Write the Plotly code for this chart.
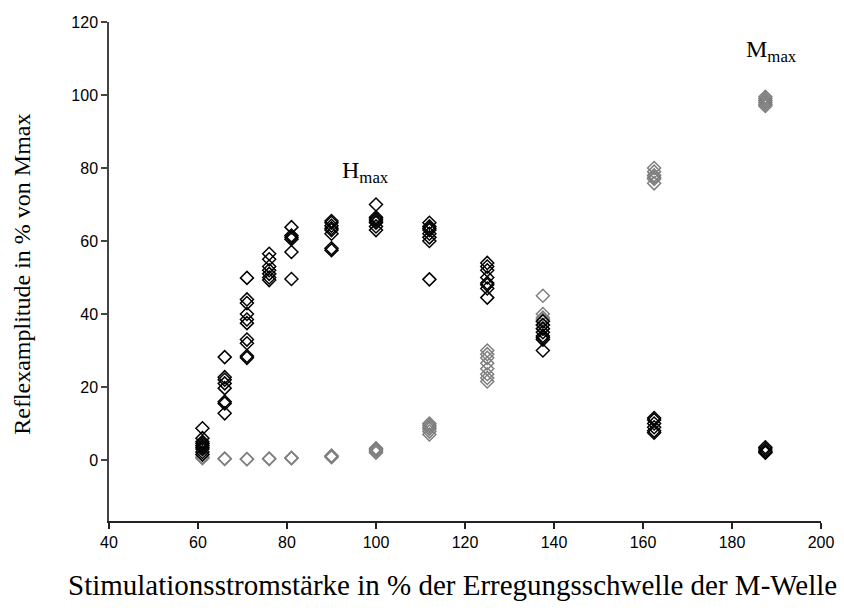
import plotly.graph_objects as go

# H-reflex amplitudes (black) per stimulation intensity
h_x = [61]*9 + [66]*8 + [71]*10 + [76]*7 + [81]*6 + [90]*8 + [100]*7 + [112]*8 + [125]*8 + [137.5]*8 + [162.5]*6 + [187.5]*5
h_y = [8.7, 6.0, 5.0, 4.5, 4.0, 3.5, 3.0, 2.2, 1.5,
       28.2, 22.7, 22.0, 21.0, 19.7, 16.0, 15.5, 12.8,
       49.9, 44.0, 43.0, 40.0, 38.5, 37.5, 33.0, 32.0, 28.5, 28.0,
       56.5, 55.0, 53.0, 52.0, 51.0, 50.0, 49.3,
       63.8, 61.5, 61.0, 60.5, 57.0, 49.6,
       65.5, 65.0, 64.2, 63.5, 63.0, 62.0, 58.0, 57.5,
       70.0, 66.5, 66.0, 65.5, 65.0, 64.0, 63.0,
       65.0, 64.0, 63.5, 63.0, 62.0, 61.0, 60.0, 49.5,
       54.0, 53.0, 52.0, 50.0, 48.5, 48.0, 47.0, 44.5,
       38.0, 37.0, 36.0, 35.0, 34.0, 33.5, 33.0, 30.0,
       11.5, 11.0, 10.0, 9.0, 8.0, 7.5,
       3.5, 3.0, 2.5, 2.2, 2.0]

# M-wave amplitudes (grey) per stimulation intensity
m_x = [61]*3 + [66]*2 + [71]*2 + [76]*2 + [81]*2 + [90]*3 + [100]*4 + [112]*6 + [125]*8 + [137.5]*7 + [162.5]*6 + [187.5]*6
m_y = [1.5, 0.8, 0.5,
       0.4, 0.3,
       0.3, 0.2,
       0.4, 0.3,
       0.6, 0.5,
       1.2, 1.0, 0.8,
       3.2, 2.8, 2.5, 2.0,
       10.0, 9.5, 9.0, 8.5, 7.8, 7.0,
       30.0, 29.0, 28.0, 26.5, 25.0, 23.5, 22.5, 21.5,
       45.0, 40.0, 39.0, 38.5, 38.0, 37.0, 36.0,
       80.0, 79.0, 78.0, 77.5, 77.0, 75.8,
       99.5, 99.0, 98.5, 98.0, 97.5, 97.0]

x_ticks = [40, 60, 80, 100, 120, 140, 160, 180, 200]
y_ticks = [0, 20, 40, 60, 80, 100, 120]

x_title = "Stimulationsstromstärke in % der Erregungsschwelle der M-Welle"
y_title = "Reflexamplitude in % von Mmax"

SERIF = "Liberation Serif, Times New Roman, serif"

fig = go.Figure()
fig.add_trace(go.Scatter(x=m_x, y=m_y, mode="markers",
                         marker=dict(symbol="diamond-open", size=10, color="#7f7f7f",
                                     line=dict(width=1.5, color="#7f7f7f")),
                         showlegend=False))
fig.add_trace(go.Scatter(x=h_x, y=h_y, mode="markers",
                         marker=dict(symbol="diamond-open", size=10, color="black",
                                     line=dict(width=1.5, color="black")),
                         showlegend=False))

W, H = 844, 611
L, R, T, B = 109, 10, 22, 90
pw = W - L - R
ph = H - T - B
SX = 0.9917  # observed horizontal scale of the captured picture


def px(X):
    # picture x -> paper x
    return (X / SX - L) / pw


def py(Y):
    # picture y -> paper y
    return (H - B - Y) / ph


fig.update_layout(
    width=W, height=H,
    margin=dict(l=L, r=R, t=T, b=B),
    plot_bgcolor="white", paper_bgcolor="white",
    font=dict(family="Liberation Sans, Arial, sans-serif", size=16, color="black"),
    xaxis=dict(range=[40, 200], tickvals=x_ticks, showgrid=False, zeroline=False,
               showline=True, linecolor="#222", linewidth=1.5, ticklabeloverflow="allow",
               ticks="outside", ticklen=6, tickcolor="#222", tickwidth=1.5),
    yaxis=dict(range=[-16.7, 120], tickvals=y_ticks, showgrid=False, zeroline=False,
               showline=True, linecolor="#444", linewidth=1.5,
               ticks="outside", ticklen=6, tickcolor="#444", tickwidth=1.5),
    annotations=[
        dict(text="H<sub>max</sub>", x=97.6, y=79.0, xref="x", yref="y", showarrow=False,
             font=dict(family=SERIF, size=24)),
        dict(text="M<sub>max</sub>", x=188.8, y=112.0, xref="x", yref="y", showarrow=False,
             font=dict(family=SERIF, size=24)),
        dict(text=y_title, x=px(20), y=py(274), xref="paper", yref="paper",
             xanchor="center", yanchor="middle",
             showarrow=False, textangle=-90,
             font=dict(family=SERIF, size=24)),
        dict(text=x_title, x=px(455), y=py(585), xref="paper", yref="paper",
             xanchor="center", yanchor="middle", showarrow=False,
             font=dict(family=SERIF, size=29)),
    ],
)

# remove the page's default body margin so the 844x611 figure fills the window exactly
fig.write_html("out.html", config={"displayModeBar": False},
               post_script="document.body.style.margin='0';document.body.style.overflow='hidden';")
